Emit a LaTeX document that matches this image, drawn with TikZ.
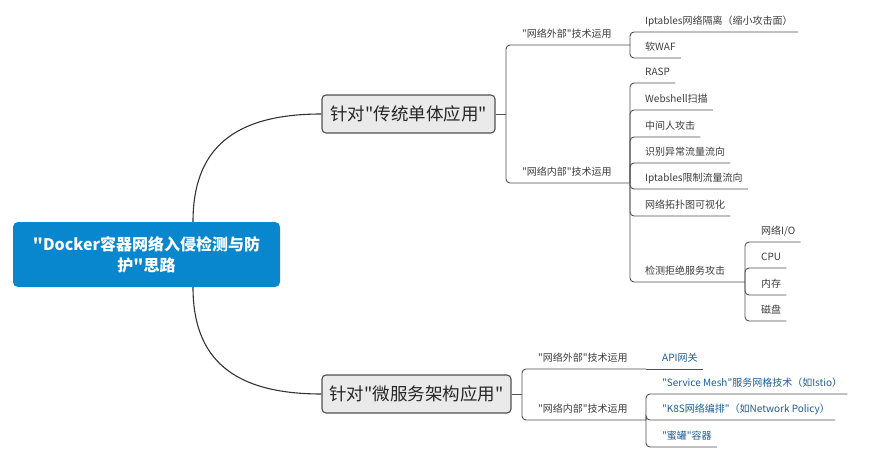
\documentclass[tikz,border=0pt]{standalone}
\usepackage{fontspec}
\setmainfont{Noto Sans CJK SC}[Ligatures=TeXOff]
\usepackage{tikz}

\definecolor{rootblue}{RGB}{8,134,206}
\definecolor{boxgray}{RGB}{234,234,234}
\definecolor{linegray}{RGB}{80,80,80}
\definecolor{txtgray}{RGB}{60,60,60}
\definecolor{leafblue}{RGB}{30,92,152}

\begin{document}
\begin{tikzpicture}[x=1pt,y=-1pt]
	\tikzstyle{root}=[rectangle,rounded corners=5pt,fill=rootblue,text=white,font=\fontsize{16}{21}\selectfont\bfseries,align=center,minimum width=267pt,minimum height=65pt,inner sep=0pt]
	\tikzstyle{main}=[rectangle,rounded corners=4pt,draw=linegray,line width=1.1pt,fill=boxgray,text=black!85,font=\fontsize{17.5}{20}\selectfont,minimum height=38pt,inner sep=0pt]
	\tikzstyle{topic}=[anchor=south west,inner xsep=5pt,inner ysep=5pt,text height=8pt,text depth=2pt,text=txtgray,font=\fontsize{10}{12}\selectfont]
	\tikzstyle{bluetopic}=[topic,text=leafblue]
	\tikzstyle{link}=[draw=linegray,line width=0.9pt,rounded corners=4pt]
	\tikzstyle{curve}=[draw=black!80,line width=1.1pt]

	\useasboundingbox (0,0) rectangle (874,462);

	% centre and main branches
	\node[root](root) at (146.5,254.5){"Docker容器网络入侵检测与防\\护"思路};
	\node[main,minimum width=173pt](tra) at (408.5,114){针对"传统单体应用"};
	\node[main,minimum width=189pt](mic) at (416.5,394){针对"微服务架构应用"};

	\draw[curve] ([xshift=46.5pt]root.north) .. controls (193,150) and (232,114) .. (tra.west);
	\draw[curve] ([xshift=46.5pt]root.south) .. controls (193,358) and (232,394) .. (mic.west);

	% traditional apps
	\coordinate (tra-b) at (506,114);
	\node[topic](ext1) at (517,45){"网络外部"技术运用};
	\node[topic](int1) at (517,183){"网络内部"技术运用};
	\coordinate (ext1-b) at (630,45);
	\coordinate (int1-b) at (630,183);

	\node[topic](ipt1) at (640,32){Iptables网络隔离（缩小攻击面）};
	\node[topic](waf) at (640,58){软WAF};

	\node[topic](rasp) at (640,83){RASP};
	\node[topic](web) at (640,110){Webshell扫描};
	\node[topic](mitm) at (640,137){中间人攻击};
	\node[topic](flow) at (640,163){识别异常流量流向};
	\node[topic](ipt2) at (640,189){Iptables限制流量流向};
	\node[topic](topo) at (640,216){网络拓扑图可视化};
	\node[topic](dos) at (640,282){检测拒绝服务攻击};
	\coordinate (dos-b) at (745,282);

	\node[topic](nio) at (756,242){网络I/O};
	\node[topic](cpu) at (756,268){CPU};
	\node[topic](mem) at (756,295){内存};
	\node[topic](disk) at (756,321){磁盘};

	\draw[link] (tra.east) -- (tra-b);
	\foreach \n in {ext1,int1}
		\draw[link] (tra-b) |- (\n.south east) -- (\n-b);
	\foreach \n in {ipt1,waf}
		\draw[link] (ext1-b) |- (\n.south east);
	\foreach \n in {rasp,web,mitm,flow,ipt2,topo}
		\draw[link] (int1-b) |- (\n.south east);
	\draw[link] (int1-b) |- (dos.south east) -- (dos-b);
	\foreach \n in {nio,cpu,mem,disk}
		\draw[link] (dos-b) |- (\n.south east);

	% microservice apps
	\coordinate (mic-b) at (522,394);
	\node[topic](ext2) at (533,369){"网络外部"技术运用};
	\node[topic](int2) at (533,420){"网络内部"技术运用};
	\coordinate (ext2-b) at (646,369);
	\coordinate (int2-b) at (646,420);

	\node[bluetopic](api) at (657,369){API网关};
	\node[bluetopic](mesh) at (657,394){"Service Mesh"服务网格技术（如Istio）};
	\node[bluetopic](k8s) at (657,420){"K8S网络编排"（如Network Policy）};
	\node[bluetopic](honey) at (657,447){"蜜罐"容器};

	\draw[link] (mic.east) -- (mic-b);
	\foreach \n in {ext2,int2}
		\draw[link] (mic-b) |- (\n.south east) -- (\n-b);
	\draw[link] (ext2-b) -- (api.south east);
	\foreach \n in {mesh,k8s,honey}
		\draw[link] (int2-b) |- (\n.south east);
\end{tikzpicture}
\end{document}
